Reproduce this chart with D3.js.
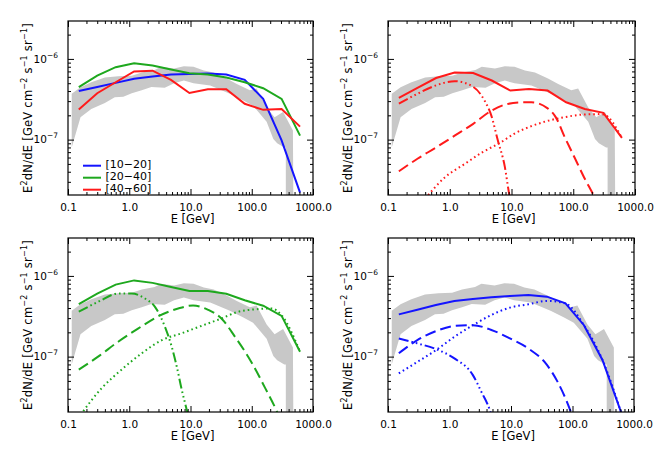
<!DOCTYPE html>
<html>
<head>
<meta charset="utf-8">
<script src="https://cdn.jsdelivr.net/npm/d3@7"></script>
<style>
body { margin: 0; background: #fff; }
svg { display: block; }
text { font-family: "DejaVu Sans", sans-serif; fill: #000; }
</style>
</head>
<body>
<svg id="chart" width="655" height="455"></svg>
<script>
// energies of the binned spectra (GeV)
var energies = [0.15, 0.3, 0.6, 1.2, 2.4, 4.8, 9.6, 19.2, 38.4, 76.8, 153.6, 307.2, 614.4];

// gray band (upper and lower edge)
var bandHiE = [0.115, 0.16, 0.24, 0.4, 0.66, 1.1, 1.6, 2.6, 3.3, 5.4, 7.8, 11.2, 16.5, 24, 39, 57, 93, 120, 175, 236, 325, 470, 480];
var bandHi = [3.7e-7, 4.45e-7, 5.15e-7, 5.9e-7, 6.1e-7, 6.2e-7, 6.8e-7, 7.3e-7, 8.0e-7, 7.6e-7, 8.1e-7, 8.0e-7, 7.2e-7, 6.8e-7, 5.7e-7, 4.9e-7, 4.1e-7, 4.3e-7, 2.5e-7, 1.9e-7, 2.2e-7, 1.3e-7, 1e-8];
var bandLoE = [0.115, 0.16, 0.24, 0.4, 0.58, 0.8, 1.1, 1.6, 2.3, 3.8, 5.4, 7.8, 11.2, 21, 44, 73, 105, 175, 225, 260, 340, 360, 360];
var bandLo = [8e-8, 1.9e-7, 2.4e-7, 2.85e-7, 3.35e-7, 3.4e-7, 3.75e-7, 4.1e-7, 4.5e-7, 4.4e-7, 5.0e-7, 5.4e-7, 5.0e-7, 4.7e-7, 3.7e-7, 3.05e-7, 2.63e-7, 1.66e-7, 1.02e-7, 9e-8, 8e-8, 8e-8, 1e-8];

// panel 1: latitude bins
var obs1020 = [4.0e-7, 4.5e-7, 5.05e-7, 5.67e-7, 6.05e-7, 6.4e-7, 6.5e-7, 6.6e-7, 6.4e-7, 5.5e-7, 3.2e-7, 9.8e-8, 2.2e-8];
var obs2040 = [4.47e-7, 6.2e-7, 7.9e-7, 8.85e-7, 8.3e-7, 7.4e-7, 6.65e-7, 6.4e-7, 5.9e-7, 5.15e-7, 4.34e-7, 3.2e-7, 1.12e-7];
var obs4060 = [2.37e-7, 3.76e-7, 5.14e-7, 7.0e-7, 7.15e-7, 5.5e-7, 3.78e-7, 4.2e-7, 4.2e-7, 2.78e-7, 2.34e-7, 2.4e-7, 1.45e-7];
var legendLabels = ["[10\u221220]", "[20\u221240]", "[40\u221260]"];

// panel 2: [40-60] model
var tot4060 = [3.3e-7, 4.37e-7, 5.8e-7, 6.8e-7, 6.7e-7, 5.4e-7, 4.05e-7, 4.25e-7, 4.05e-7, 2.9e-7, 2.4e-7, 2.15e-7, 1.05e-7];
var redDdE = [0.15, 0.3, 0.6, 1.2, 2.4, 3.7, 4.7, 6.0, 7.8, 9.2, 10];
var redDd = [2.8e-7, 3.7e-7, 4.7e-7, 5.3e-7, 4.5e-7, 3.0e-7, 2.0e-7, 9.8e-8, 4.6e-8, 2.1e-8, 1.6e-8];
var redDashE = [0.15, 0.3, 0.6, 1.2, 2.4, 4.8, 8.7, 15, 21, 38, 52, 73, 105, 150, 210, 260];
var redDash = [4.05e-8, 5.8e-8, 8.0e-8, 1.12e-7, 1.57e-7, 2.3e-7, 2.77e-7, 2.9e-7, 2.9e-7, 2.46e-7, 1.9e-7, 1.07e-7, 6.0e-8, 3.4e-8, 2.1e-8, 1.5e-8];
var redDotE = [0.4, 0.83, 1.75, 3.4, 6.5, 11, 21, 40, 73, 140, 260, 307, 614];
var redDot = [1.85e-8, 3.4e-8, 5.0e-8, 7.0e-8, 9.1e-8, 1.18e-7, 1.47e-7, 1.72e-7, 1.9e-7, 2.04e-7, 2.07e-7, 2.05e-7, 1.05e-7];

// panel 3: [20-40] model
var tot2040 = [4.48e-7, 6.05e-7, 7.8e-7, 8.8e-7, 8.2e-7, 7.3e-7, 6.5e-7, 6.5e-7, 6.0e-7, 5.0e-7, 4.27e-7, 3.2e-7, 1.15e-7];
var grnDdE = [0.15, 0.31, 0.66, 1.1, 1.8, 2.63, 3.83, 4.93, 5.95, 7.19, 8.67, 9.8];
var grnDd = [3.6e-7, 4.77e-7, 6.05e-7, 6.05e-7, 5.25e-7, 4.14e-7, 2.34e-7, 1.33e-7, 7.6e-8, 3.9e-8, 2.2e-8, 1.5e-8];
var grnDashE = [0.15, 0.31, 0.66, 1.41, 3.0, 6.3, 11, 19.4, 32, 53, 101, 165, 257, 300];
var grnDash = [6.9e-8, 1.0e-7, 1.53e-7, 2.24e-7, 3.17e-7, 3.95e-7, 4.3e-7, 3.8e-7, 2.97e-7, 1.77e-7, 8.3e-8, 4.1e-8, 2.1e-8, 1.6e-8];
var grnDotE = [0.16, 0.355, 0.75, 1.6, 3.4, 7.2, 15, 32, 60, 112, 210, 307, 614];
var grnDot = [1.9e-8, 4.07e-8, 6.9e-8, 1.1e-7, 1.6e-7, 1.95e-7, 2.4e-7, 2.97e-7, 3.6e-7, 3.85e-7, 3.95e-7, 3.25e-7, 1.15e-7];

// panel 4: [10-20] model
var tot1020 = [3.34e-7, 3.8e-7, 4.36e-7, 4.9e-7, 5.18e-7, 5.43e-7, 5.65e-7, 5.8e-7, 5.53e-7, 4.57e-7, 2.45e-7, 9.1e-8, 2.06e-8];
var bluDdE = [0.15, 0.3, 0.6, 1.2, 2.4, 3.3, 4.5, 5];
var bluDd = [1.68e-7, 1.46e-7, 1.24e-7, 9.5e-8, 5.9e-8, 3.66e-8, 2.2e-8, 1.7e-8];
var bluDashE = [0.15, 0.3, 0.6, 1.2, 2.4, 4.8, 9.6, 19.2, 38.4, 57, 91, 100];
var bluDash = [1.1e-7, 1.6e-7, 2.07e-7, 2.4e-7, 2.45e-7, 2.14e-7, 1.68e-7, 1.26e-7, 7.9e-8, 4.9e-8, 2.2e-8, 1.8e-8];
var bluDotE = [0.15, 0.3, 0.6, 1.2, 2.4, 4.8, 9.6, 19.2, 38.4, 76.8, 153.6, 307.2, 614.4];
var bluDot = [6.2e-8, 8.6e-8, 1.2e-7, 1.76e-7, 2.45e-7, 3.28e-7, 4.05e-7, 4.45e-7, 4.9e-7, 4.57e-7, 2.45e-7, 9.1e-8, 2.06e-8];

// axes
var xMajor = [0.1, 1, 10, 100, 1000];
var xTickLabels = ["0.1", "1.0", "10.0", "100.0", "1000.0"];
var yMajor = [1e-7, 1e-6];

var blue = "#1414ff", green = "#1ea81e", red = "#ff1a1a";
var dashes = { solid: null, dash: "11,5", dot: "1.6,3", ddd: "10,3,1.6,3,1.6,3,1.6,3" };

function zip(xs, ys) {
	return xs.map(function (e, i) { return { e: e, v: ys[i] }; });
}

var panels = [
	{ x: 68, y: 21, w: 245, h: 174, legend: true, series: [
		{ data: zip(energies, obs1020), color: blue, style: "solid" },
		{ data: zip(energies, obs2040), color: green, style: "solid" },
		{ data: zip(energies, obs4060), color: red, style: "solid" }] },
	{ x: 388, y: 21, w: 247, h: 174, series: [
		{ data: zip(energies, tot4060), color: red, style: "solid" },
		{ data: zip(redDdE, redDd), color: red, style: "ddd" },
		{ data: zip(redDashE, redDash), color: red, style: "dash" },
		{ data: zip(redDotE, redDot), color: red, style: "dot" }] },
	{ x: 68, y: 238, w: 245, h: 174, series: [
		{ data: zip(energies, tot2040), color: green, style: "solid" },
		{ data: zip(grnDdE, grnDd), color: green, style: "ddd" },
		{ data: zip(grnDashE, grnDash), color: green, style: "dash" },
		{ data: zip(grnDotE, grnDot), color: green, style: "dot" }] },
	{ x: 388, y: 238, w: 246, h: 174, series: [
		{ data: zip(energies, tot1020), color: blue, style: "solid" },
		{ data: zip(bluDdE, bluDd), color: blue, style: "ddd" },
		{ data: zip(bluDashE, bluDash), color: blue, style: "dash" },
		{ data: zip(bluDotE, bluDot), color: blue, style: "dot" }] }
];

function minorTicks(lo, hi) {
	var out = [];
	for (var p = lo; p < hi; p++) {
		for (var k = 2; k <= 9; k++) out.push(k * Math.pow(10, p));
	}
	return out;
}
var xMinor = minorTicks(-1, 3);
var yMinor = minorTicks(-8, -5).filter(function (v) { return v > 2.06e-8 && v < 2.95e-6; });

var svg = d3.select("#chart");

panels.forEach(function (p, pi) {
	var g = svg.append("g").attr("transform", "translate(" + p.x + "," + p.y + ")");

	var x = d3.scaleLog().domain([0.1, 1000]).range([0, p.w]);
	var y = d3.scaleLog().domain([2.06e-8, 2.95e-6]).range([p.h, 0]);

	g.append("clipPath").attr("id", "clip" + pi)
		.append("rect").attr("width", p.w).attr("height", p.h);
	var plot = g.append("g").attr("clip-path", "url(#clip" + pi + ")");

	// uncertainty band
	var bandPts = zip(bandHiE, bandHi).concat(zip(bandLoE, bandLo).reverse());
	plot.append("path")
		.datum(bandPts)
		.attr("fill", "#c8c8c8")
		.attr("stroke", "none")
		.attr("d", d3.line().x(function (d) { return x(d.e); }).y(function (d) { return y(d.v); }));

	var line = d3.line()
		.x(function (d) { return x(d.e); })
		.y(function (d) { return y(d.v); });
	var smooth = d3.line()
		.curve(d3.curveMonotoneX)
		.x(function (d) { return x(d.e); })
		.y(function (d) { return y(d.v); });

	p.series.forEach(function (s) {
		plot.append("path")
			.datum(s.data)
			.attr("fill", "none")
			.attr("stroke", s.color)
			.attr("stroke-width", 2)
			.attr("stroke-dasharray", dashes[s.style])
			.attr("d", s.style == "solid" ? line : smooth);
	});

	// frame
	g.append("rect").attr("width", p.w).attr("height", p.h)
		.attr("fill", "none").attr("stroke", "#000").attr("stroke-width", 1.2);

	function axisGroup(axis, tx, ty) {
		var a = g.append("g").attr("transform", "translate(" + tx + "," + ty + ")").call(axis);
		a.select(".domain").remove();
		a.attr("font-family", "DejaVu Sans").attr("font-size", 10.5);
		a.selectAll(".tick line").attr("stroke-width", 1);
		return a;
	}

	axisGroup(d3.axisBottom(x).tickValues(xMajor).tickSize(-6).tickPadding(9)
		.tickFormat(function (d, i) { return xTickLabels[i]; }), 0, p.h);
	axisGroup(d3.axisBottom(x).tickValues(xMinor).tickSize(-3).tickFormat(""), 0, p.h);
	axisGroup(d3.axisTop(x).tickValues(xMajor).tickSize(-6).tickFormat(""), 0, 0);
	axisGroup(d3.axisTop(x).tickValues(xMinor).tickSize(-3).tickFormat(""), 0, 0);

	var yl = axisGroup(d3.axisLeft(y).tickValues(yMajor).tickSize(-6).tickPadding(10), 0, 0);
	yl.selectAll(".tick text").each(function (d) {
		var t = d3.select(this);
		var ex = Math.round(Math.log10(d));
		t.text(null);
		t.append("tspan").text("10");
		t.append("tspan").attr("dy", -5).attr("font-size", 7.5).text("\u2212" + Math.abs(ex));
	});
	axisGroup(d3.axisLeft(y).tickValues(yMinor).tickSize(-3).tickFormat(""), 0, 0);
	axisGroup(d3.axisRight(y).tickValues(yMajor).tickSize(-6).tickFormat(""), p.w, 0);
	axisGroup(d3.axisRight(y).tickValues(yMinor).tickSize(-3).tickFormat(""), p.w, 0);

	// axis titles
	g.append("text")
		.attr("x", p.w / 2 + 2)
		.attr("y", p.h + 28)
		.attr("text-anchor", "middle")
		.attr("font-size", 11.5)
		.text("E [GeV]");

	var yt = g.append("text")
		.attr("transform", "translate(-36," + (p.h / 2) + ") rotate(-90)")
		.attr("text-anchor", "middle")
		.attr("font-size", 11.5);
	var parts = [["E", 0], ["2", 1], ["dN/dE [GeV cm", 0], ["\u22122", 1], [" s", 0], ["\u22121", 1], [" sr", 0], ["\u22121", 1], ["]", 0]];
	var up = false;
	parts.forEach(function (pt) {
		var ts = yt.append("tspan").text(pt[0]);
		if (pt[1] && !up) { ts.attr("dy", -5).attr("font-size", 8); up = true; }
		else if (!pt[1] && up) { ts.attr("dy", 5); up = false; }
	});
	var len = yt.node().getComputedTextLength();
	var nChars = yt.text().length;
	if (len < 170) yt.attr("letter-spacing", (170 - len) / nChars);

	if (p.legend) {
		var cols = [blue, green, red];
		legendLabels.forEach(function (lab, i) {
			var ly = 144.7 + i * 12;
			g.append("line")
				.attr("x1", 15).attr("x2", 33).attr("y1", ly).attr("y2", ly)
				.attr("stroke", cols[i]).attr("stroke-width", 2);
			g.append("text")
				.attr("x", 37.5).attr("y", ly + 2.5)
				.attr("font-size", 11)
				.text(lab);
		});
	}
});
</script>
</body>
</html>
